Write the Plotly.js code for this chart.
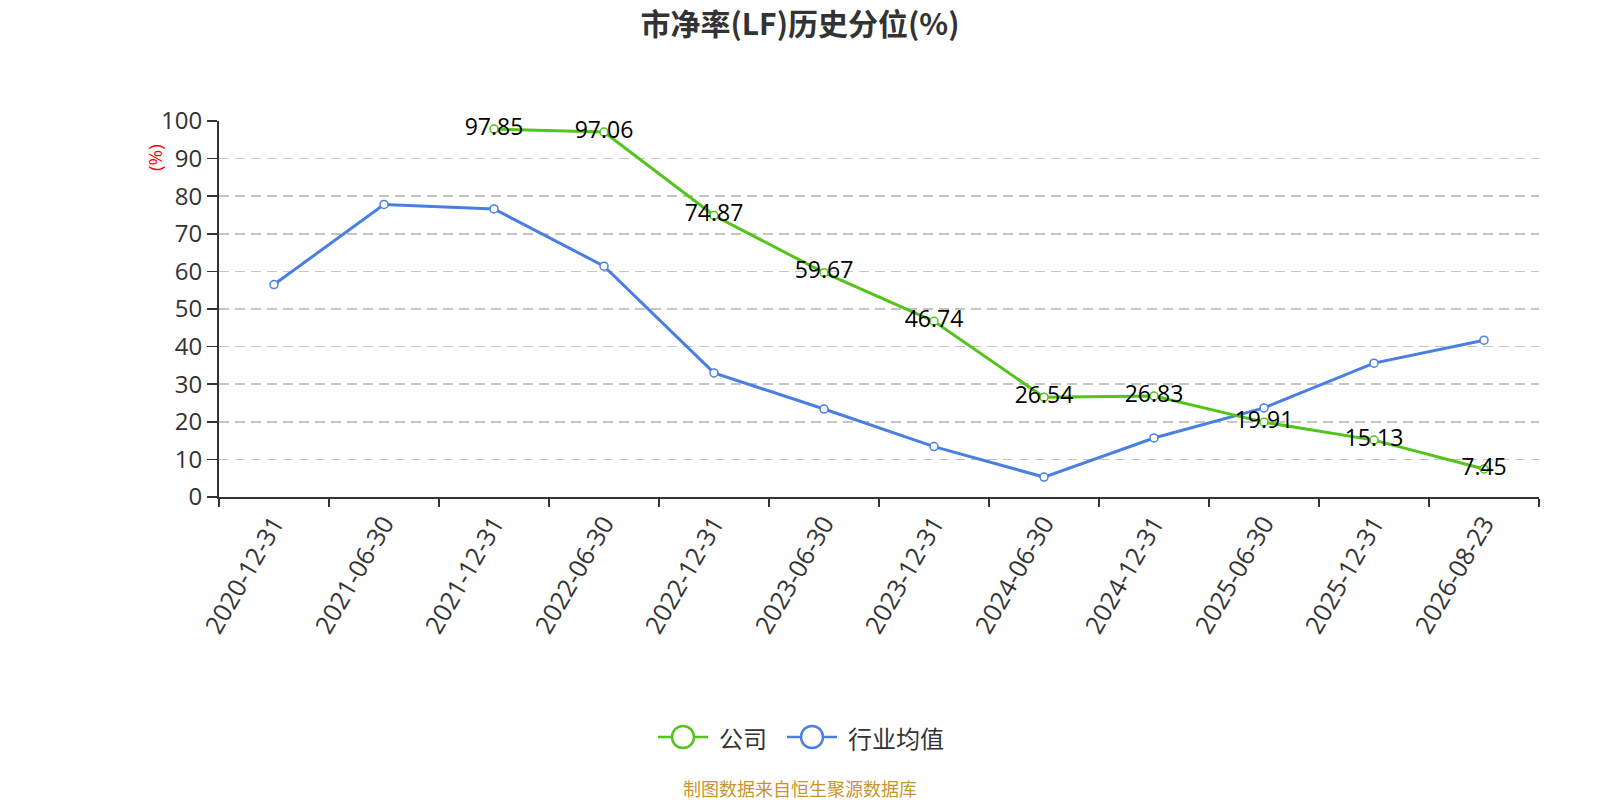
<!DOCTYPE html>
<html>
<head>
<meta charset="utf-8">
<script src="https://cdn.plot.ly/plotly-3.0.1.min.js"></script>
<style>
  html, body { margin: 0; padding: 0; background: #fff; }
  #chart { width: 1600px; height: 800px; }
</style>
</head>
<body>
<div id="chart"></div>
<script>
// report dates on the category axis
const dates = ['2020-12-31', '2021-06-30', '2021-12-31', '2022-06-30', '2022-12-31', '2023-06-30',
  '2023-12-31', '2024-06-30', '2024-12-31', '2025-06-30', '2025-12-31', '2026-08-23'];

// company percentile, no value for the first two dates
const company = [null, null, 97.85, 97.06, 74.87, 59.67, 46.74, 26.54, 26.83, 19.91, 15.13, 7.45];

// industry average percentile
const industry = [56.5, 77.8, 76.6, 61.4, 33.0, 23.4, 13.4, 5.3, 15.7, 23.7, 35.6, 41.7];

const seriesNames = ['公司', '行业均值'];
const yTicks = [0, 10, 20, 30, 40, 50, 60, 70, 80, 90, 100];

const numFont = '"Open Sans", "Noto Sans CJK SC", sans-serif';
const cjkFont = '"Noto Sans CJK SC", "Open Sans", sans-serif';
const green = '#52c41a';
const blue = '#4a7fe2';

// plot area in pixels, used to place the hand drawn legend and notes
const plotL = 219, plotR = 1539, plotT = 121, plotB = 497;
const px = v => (v - plotL) / (plotR - plotL);
const py = v => (plotB - v) / (plotB - plotT);

const data = [
  {
    x: dates,
    y: industry,
    name: seriesNames[1],
    type: 'scatter',
    mode: 'lines+markers',
    line: { color: blue, width: 3 },
    marker: { symbol: 'circle', size: 8, color: '#fff', line: { color: blue, width: 1.5 } },
    cliponaxis: false,
  },
  {
    x: dates,
    y: company,
    name: seriesNames[0],
    type: 'scatter',
    mode: 'lines+markers+text',
    text: company.map(v => (v === null ? '' : v.toFixed(2))),
    textposition: 'middle center',
    textfont: { family: numFont, size: 23, color: '#000' },
    line: { color: green, width: 3 },
    marker: { symbol: 'circle', size: 8, color: '#fff', line: { color: green, width: 1.5 } },
    connectgaps: false,
    cliponaxis: false,
  },
];

// legend: line with a hollow circle, then the name
const legendItems = [
  { name: seriesNames[0], color: green, x: 683 },
  { name: seriesNames[1], color: blue, x: 812 },
];
const legendY = 737;
const shapes = [];
const annotations = [];
legendItems.forEach(item => {
  shapes.push({
    type: 'line', xref: 'paper', yref: 'paper',
    x0: px(item.x - 25), x1: px(item.x + 25), y0: py(legendY), y1: py(legendY),
    line: { color: item.color, width: 2.5 },
  });
  shapes.push({
    type: 'circle', xref: 'paper', yref: 'paper',
    xsizemode: 'pixel', ysizemode: 'pixel',
    xanchor: px(item.x), yanchor: py(legendY),
    x0: -11, x1: 11, y0: -11, y1: 11,
    fillcolor: '#fff',
    line: { color: item.color, width: 2.5 },
  });
  annotations.push({
    text: item.name, xref: 'paper', yref: 'paper',
    x: px(item.x + 34), y: py(legendY),
    xanchor: 'left', yanchor: 'middle', showarrow: false,
    font: { family: cjkFont, size: 24, color: '#333' },
  });
});

annotations.push({
  text: '(%)', xref: 'paper', yref: 'paper',
  x: px(155), y: py(158),
  xanchor: 'center', yanchor: 'middle', textangle: -90, showarrow: false,
  font: { family: numFont, size: 19, color: '#ff0000' },
});
annotations.push({
  text: '制图数据来自恒生聚源数据库', xref: 'paper', yref: 'paper',
  x: px(800), y: py(788),
  xanchor: 'center', yanchor: 'middle', showarrow: false,
  font: { family: cjkFont, size: 18, color: '#c9942e' },
});

const layout = {
  width: 1600,
  height: 800,
  paper_bgcolor: '#fff',
  plot_bgcolor: '#fff',
  font: { family: numFont, color: '#333' },
  margin: { l: plotL, r: 1600 - plotR, t: plotT, b: 800 - plotB },
  title: {
    text: '<b>市净率(LF)历史分位(%)</b>',
    x: 0.5,
    xref: 'container',
    xanchor: 'center',
    y: 1 - 24 / 800,
    yanchor: 'middle',
    font: { family: cjkFont, size: 30, color: '#333' },
  },
  xaxis: {
    type: 'category',
    categoryorder: 'array',
    categoryarray: dates,
    range: [-0.5, dates.length - 0.5],
    tickson: 'boundaries',
    ticks: 'outside',
    ticklen: 8,
    tickwidth: 1.5,
    tickcolor: '#333',
    tickangle: -60,
    tickfont: { family: numFont, size: 25, color: '#333' },
    showline: true,
    linecolor: '#333',
    linewidth: 2,
    showgrid: false,
    zeroline: false,
    fixedrange: true,
  },
  yaxis: {
    range: [0, 100],
    tickvals: yTicks,
    ticktext: yTicks.map(String),
    ticks: 'outside',
    ticklen: 10,
    tickwidth: 1.5,
    tickcolor: '#333',
    tickfont: { family: numFont, size: 24, color: '#333' },
    showline: true,
    linecolor: '#333',
    linewidth: 2,
    showgrid: true,
    gridcolor: '#c4c4c4',
    griddash: '10px,6px',
    gridwidth: 1.6,
    zeroline: false,
    fixedrange: true,
  },
  showlegend: false,
  shapes: shapes,
  annotations: annotations,
};

Plotly.newPlot('chart', data, layout, { displayModeBar: false, staticPlot: true });
</script>
</body>
</html>
